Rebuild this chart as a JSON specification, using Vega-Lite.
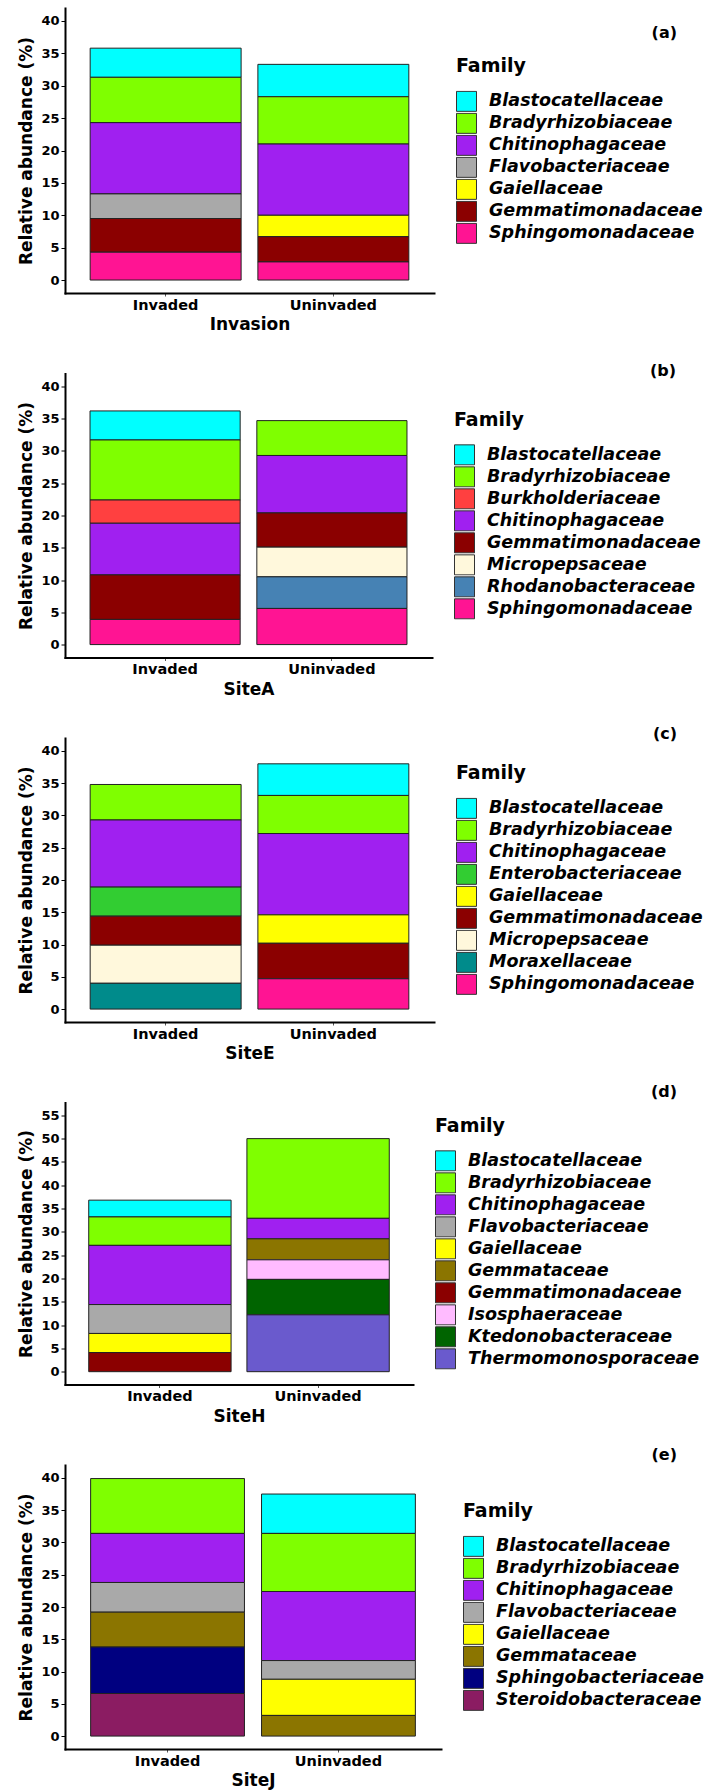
{
  "$schema": "https://vega.github.io/schema/vega-lite/v6.json",
  "padding": {"left": 17, "top": 8, "right": 4, "bottom": 2},
  "bounds": "flush",
  "spacing": 80.5,
  "background": "white",
  "data": {"values": [
    {"panel": "a", "group": "Invaded", "Family": "Blastocatellaceae", "abundance": 4.5},
    {"panel": "a", "group": "Invaded", "Family": "Bradyrhizobiaceae", "abundance": 7.0},
    {"panel": "a", "group": "Invaded", "Family": "Chitinophagaceae", "abundance": 11.0},
    {"panel": "a", "group": "Invaded", "Family": "Flavobacteriaceae", "abundance": 3.8},
    {"panel": "a", "group": "Invaded", "Family": "Gemmatimonadaceae", "abundance": 5.2},
    {"panel": "a", "group": "Invaded", "Family": "Sphingomonadaceae", "abundance": 4.3},
    {"panel": "a", "group": "Uninvaded", "Family": "Blastocatellaceae", "abundance": 5.0},
    {"panel": "a", "group": "Uninvaded", "Family": "Bradyrhizobiaceae", "abundance": 7.3},
    {"panel": "a", "group": "Uninvaded", "Family": "Chitinophagaceae", "abundance": 11.0},
    {"panel": "a", "group": "Uninvaded", "Family": "Gaiellaceae", "abundance": 3.3},
    {"panel": "a", "group": "Uninvaded", "Family": "Gemmatimonadaceae", "abundance": 3.9},
    {"panel": "a", "group": "Uninvaded", "Family": "Sphingomonadaceae", "abundance": 2.8},

    {"panel": "b", "group": "Invaded", "Family": "Blastocatellaceae", "abundance": 4.5},
    {"panel": "b", "group": "Invaded", "Family": "Bradyrhizobiaceae", "abundance": 9.3},
    {"panel": "b", "group": "Invaded", "Family": "Burkholderiaceae", "abundance": 3.6},
    {"panel": "b", "group": "Invaded", "Family": "Chitinophagaceae", "abundance": 8.0},
    {"panel": "b", "group": "Invaded", "Family": "Gemmatimonadaceae", "abundance": 6.9},
    {"panel": "b", "group": "Invaded", "Family": "Sphingomonadaceae", "abundance": 3.9},
    {"panel": "b", "group": "Uninvaded", "Family": "Bradyrhizobiaceae", "abundance": 5.4},
    {"panel": "b", "group": "Uninvaded", "Family": "Chitinophagaceae", "abundance": 8.9},
    {"panel": "b", "group": "Uninvaded", "Family": "Gemmatimonadaceae", "abundance": 5.3},
    {"panel": "b", "group": "Uninvaded", "Family": "Micropepsaceae", "abundance": 4.6},
    {"panel": "b", "group": "Uninvaded", "Family": "Rhodanobacteraceae", "abundance": 4.9},
    {"panel": "b", "group": "Uninvaded", "Family": "Sphingomonadaceae", "abundance": 5.6},

    {"panel": "c", "group": "Invaded", "Family": "Bradyrhizobiaceae", "abundance": 5.5},
    {"panel": "c", "group": "Invaded", "Family": "Chitinophagaceae", "abundance": 10.4},
    {"panel": "c", "group": "Invaded", "Family": "Enterobacteriaceae", "abundance": 4.5},
    {"panel": "c", "group": "Invaded", "Family": "Gemmatimonadaceae", "abundance": 4.5},
    {"panel": "c", "group": "Invaded", "Family": "Micropepsaceae", "abundance": 5.9},
    {"panel": "c", "group": "Invaded", "Family": "Moraxellaceae", "abundance": 4.0},
    {"panel": "c", "group": "Uninvaded", "Family": "Blastocatellaceae", "abundance": 4.9},
    {"panel": "c", "group": "Uninvaded", "Family": "Bradyrhizobiaceae", "abundance": 5.9},
    {"panel": "c", "group": "Uninvaded", "Family": "Chitinophagaceae", "abundance": 12.6},
    {"panel": "c", "group": "Uninvaded", "Family": "Gaiellaceae", "abundance": 4.4},
    {"panel": "c", "group": "Uninvaded", "Family": "Gemmatimonadaceae", "abundance": 5.5},
    {"panel": "c", "group": "Uninvaded", "Family": "Sphingomonadaceae", "abundance": 4.7},

    {"panel": "d", "group": "Invaded", "Family": "Blastocatellaceae", "abundance": 3.6},
    {"panel": "d", "group": "Invaded", "Family": "Bradyrhizobiaceae", "abundance": 6.1},
    {"panel": "d", "group": "Invaded", "Family": "Chitinophagaceae", "abundance": 12.7},
    {"panel": "d", "group": "Invaded", "Family": "Flavobacteriaceae", "abundance": 6.2},
    {"panel": "d", "group": "Invaded", "Family": "Gaiellaceae", "abundance": 4.1},
    {"panel": "d", "group": "Invaded", "Family": "Gemmatimonadaceae", "abundance": 4.1},
    {"panel": "d", "group": "Uninvaded", "Family": "Bradyrhizobiaceae", "abundance": 17.1},
    {"panel": "d", "group": "Uninvaded", "Family": "Chitinophagaceae", "abundance": 4.4},
    {"panel": "d", "group": "Uninvaded", "Family": "Gemmataceae", "abundance": 4.5},
    {"panel": "d", "group": "Uninvaded", "Family": "Isosphaeraceae", "abundance": 4.2},
    {"panel": "d", "group": "Uninvaded", "Family": "Ktedonobacteraceae", "abundance": 7.6},
    {"panel": "d", "group": "Uninvaded", "Family": "Thermomonosporaceae", "abundance": 12.2},

    {"panel": "e", "group": "Invaded", "Family": "Bradyrhizobiaceae", "abundance": 8.5},
    {"panel": "e", "group": "Invaded", "Family": "Chitinophagaceae", "abundance": 7.6},
    {"panel": "e", "group": "Invaded", "Family": "Flavobacteriaceae", "abundance": 4.6},
    {"panel": "e", "group": "Invaded", "Family": "Gemmataceae", "abundance": 5.4},
    {"panel": "e", "group": "Invaded", "Family": "Sphingobacteriaceae", "abundance": 7.2},
    {"panel": "e", "group": "Invaded", "Family": "Steroidobacteraceae", "abundance": 6.6},
    {"panel": "e", "group": "Uninvaded", "Family": "Blastocatellaceae", "abundance": 6.1},
    {"panel": "e", "group": "Uninvaded", "Family": "Bradyrhizobiaceae", "abundance": 9.0},
    {"panel": "e", "group": "Uninvaded", "Family": "Chitinophagaceae", "abundance": 10.7},
    {"panel": "e", "group": "Uninvaded", "Family": "Flavobacteriaceae", "abundance": 2.9},
    {"panel": "e", "group": "Uninvaded", "Family": "Gaiellaceae", "abundance": 5.6},
    {"panel": "e", "group": "Uninvaded", "Family": "Gemmataceae", "abundance": 3.2}
  ]},
  "vconcat": [
    {
      "width": 369, "height": 285,
      "title": {"text": "(a)", "dy": 36.5, "dx": 243},
      "transform": [{"filter": "datum.panel === 'a'"}],
      "mark": {"type": "bar", "stroke": "#222222", "strokeWidth": 1},
      "encoding": {
        "x": {"field": "group", "type": "nominal", "title": "Invasion", "scale": {"paddingInner": 0.1, "paddingOuter": 0.15}},
        "y": {"field": "abundance", "type": "quantitative", "stack": "zero", "title": "Relative abundance (%)", "scale": {"domain": [-2, 42], "nice": false, "zero": false}, "axis": {"values": [0, 5, 10, 15, 20, 25, 30, 35, 40]}},
        "color": {"field": "Family", "type": "nominal", "title": "Family",
          "scale": {"domain": ["Blastocatellaceae", "Bradyrhizobiaceae", "Chitinophagaceae", "Flavobacteriaceae", "Gaiellaceae", "Gemmatimonadaceae", "Sphingomonadaceae"],
                    "range": ["#00FFFF", "#7FFF00", "#A020F0", "#A9A9A9", "#FFFF00", "#8B0000", "#FF1493"]}},
        "order": {"field": "Family", "sort": "descending"}
      }
    },
    {
      "width": 367, "height": 284,
      "title": {"text": "(b)", "dy": 9.5, "dx": 244},
      "transform": [{"filter": "datum.panel === 'b'"}],
      "mark": {"type": "bar", "stroke": "#222222", "strokeWidth": 1},
      "encoding": {
        "x": {"field": "group", "type": "nominal", "title": "SiteA", "scale": {"paddingInner": 0.1, "paddingOuter": 0.15}},
        "y": {"field": "abundance", "type": "quantitative", "stack": "zero", "title": "Relative abundance (%)", "scale": {"domain": [-2, 42], "nice": false, "zero": false}, "axis": {"values": [0, 5, 10, 15, 20, 25, 30, 35, 40]}},
        "color": {"field": "Family", "type": "nominal", "title": "Family",
          "scale": {"domain": ["Blastocatellaceae", "Bradyrhizobiaceae", "Burkholderiaceae", "Chitinophagaceae", "Gemmatimonadaceae", "Micropepsaceae", "Rhodanobacteraceae", "Sphingomonadaceae"],
                    "range": ["#00FFFF", "#7FFF00", "#FF4040", "#A020F0", "#8B0000", "#FFF8DC", "#4682B4", "#FF1493"]}},
        "order": {"field": "Family", "sort": "descending"}
      }
    },
    {
      "width": 369, "height": 284,
      "title": {"text": "(c)", "dy": 8, "dx": 243},
      "transform": [{"filter": "datum.panel === 'c'"}],
      "mark": {"type": "bar", "stroke": "#222222", "strokeWidth": 1},
      "encoding": {
        "x": {"field": "group", "type": "nominal", "title": "SiteE", "scale": {"paddingInner": 0.1, "paddingOuter": 0.15}},
        "y": {"field": "abundance", "type": "quantitative", "stack": "zero", "title": "Relative abundance (%)", "scale": {"domain": [-2, 42], "nice": false, "zero": false}, "axis": {"values": [0, 5, 10, 15, 20, 25, 30, 35, 40]}},
        "color": {"field": "Family", "type": "nominal", "title": "Family",
          "scale": {"domain": ["Blastocatellaceae", "Bradyrhizobiaceae", "Chitinophagaceae", "Enterobacteriaceae", "Gaiellaceae", "Gemmatimonadaceae", "Micropepsaceae", "Moraxellaceae", "Sphingomonadaceae"],
                    "range": ["#00FFFF", "#7FFF00", "#A020F0", "#32CD32", "#FFFF00", "#8B0000", "#FFF8DC", "#008B8B", "#FF1493"]}},
        "order": {"field": "Family", "sort": "descending"}
      }
    },
    {
      "width": 348, "height": 282,
      "title": {"text": "(d)", "dy": 1, "dx": 264},
      "transform": [{"filter": "datum.panel === 'd'"}],
      "mark": {"type": "bar", "stroke": "#222222", "strokeWidth": 1},
      "encoding": {
        "x": {"field": "group", "type": "nominal", "title": "SiteH", "scale": {"paddingInner": 0.1, "paddingOuter": 0.15}},
        "y": {"field": "abundance", "type": "quantitative", "stack": "zero", "title": "Relative abundance (%)", "scale": {"domain": [-2.75, 57.75], "nice": false, "zero": false}, "axis": {"values": [0, 5, 10, 15, 20, 25, 30, 35, 40, 45, 50, 55]}},
        "color": {"field": "Family", "type": "nominal", "title": "Family",
          "scale": {"domain": ["Blastocatellaceae", "Bradyrhizobiaceae", "Chitinophagaceae", "Flavobacteriaceae", "Gaiellaceae", "Gemmataceae", "Gemmatimonadaceae", "Isosphaeraceae", "Ktedonobacteraceae", "Thermomonosporaceae"],
                    "range": ["#00FFFF", "#7FFF00", "#A020F0", "#A9A9A9", "#FFFF00", "#8B7500", "#8B0000", "#FFBBFF", "#006400", "#6A5ACD"]}},
        "order": {"field": "Family", "sort": "descending"}
      }
    },
    {
      "width": 376, "height": 284,
      "title": {"text": "(e)", "dy": 1.5, "dx": 236},
      "transform": [{"filter": "datum.panel === 'e'"}],
      "mark": {"type": "bar", "stroke": "#222222", "strokeWidth": 1},
      "encoding": {
        "x": {"field": "group", "type": "nominal", "title": "SiteJ", "scale": {"paddingInner": 0.1, "paddingOuter": 0.15}},
        "y": {"field": "abundance", "type": "quantitative", "stack": "zero", "title": "Relative abundance (%)", "scale": {"domain": [-2, 42], "nice": false, "zero": false}, "axis": {"values": [0, 5, 10, 15, 20, 25, 30, 35, 40]}},
        "color": {"field": "Family", "type": "nominal", "title": "Family",
          "scale": {"domain": ["Blastocatellaceae", "Bradyrhizobiaceae", "Chitinophagaceae", "Flavobacteriaceae", "Gaiellaceae", "Gemmataceae", "Sphingobacteriaceae", "Steroidobacteraceae"],
                    "range": ["#00FFFF", "#7FFF00", "#A020F0", "#A9A9A9", "#FFFF00", "#8B7500", "#000080", "#8B1C62"]}},
        "order": {"field": "Family", "sort": "descending"}
      }
    }
  ],
  "resolve": {
    "scale": {"color": "independent", "x": "independent", "y": "independent"},
    "legend": {"color": "independent"},
    "axis": {"x": "independent", "y": "independent"}
  },
  "config": {
    "view": {"stroke": null},
    "font": "DejaVu Sans",
    "title": {"font": "DejaVu Sans", "fontSize": 16, "fontWeight": "bold", "color": "black", "anchor": "end", "frame": "group", "offset": 0, "baseline": "middle"},
    "axis": {"domainColor": "black", "domainWidth": 2, "domainCap": "square", "tickColor": "black", "tickWidth": 1, "grid": false,
             "labelFont": "DejaVu Sans", "labelFontWeight": "bold", "labelColor": "black",
             "titleFont": "DejaVu Sans", "titleFontWeight": "bold", "titleColor": "black", "titleFontSize": 17},
    "axisX": {"labelFontSize": 14.5, "tickSize": 3, "labelPadding": 2, "titlePadding": 5, "labelAngle": 0, "tickColor": "#555555"},
    "axisY": {"labelFontSize": 13, "tickSize": 4, "labelPadding": 2, "titlePadding": 5},
    "legend": {"orient": "right", "offset": 22, "padding": 0,
               "titleFont": "DejaVu Sans", "titleFontSize": 19, "titleFontWeight": "bold", "titleColor": "black", "titlePadding": 14.5,
               "labelFont": "DejaVu Sans", "labelFontSize": 17.5, "labelFontWeight": "bold", "labelFontStyle": "italic", "labelColor": "black", "labelLimit": 400, "labelOffset": 12,
               "symbolType": "square", "symbolSize": 400, "symbolStrokeColor": "#333333", "symbolStrokeWidth": 1, "symbolOpacity": 1, "rowPadding": 0, "clipHeight": 21.7,
               "layout": {"right": {"anchor": "middle"}}}
  }
}
